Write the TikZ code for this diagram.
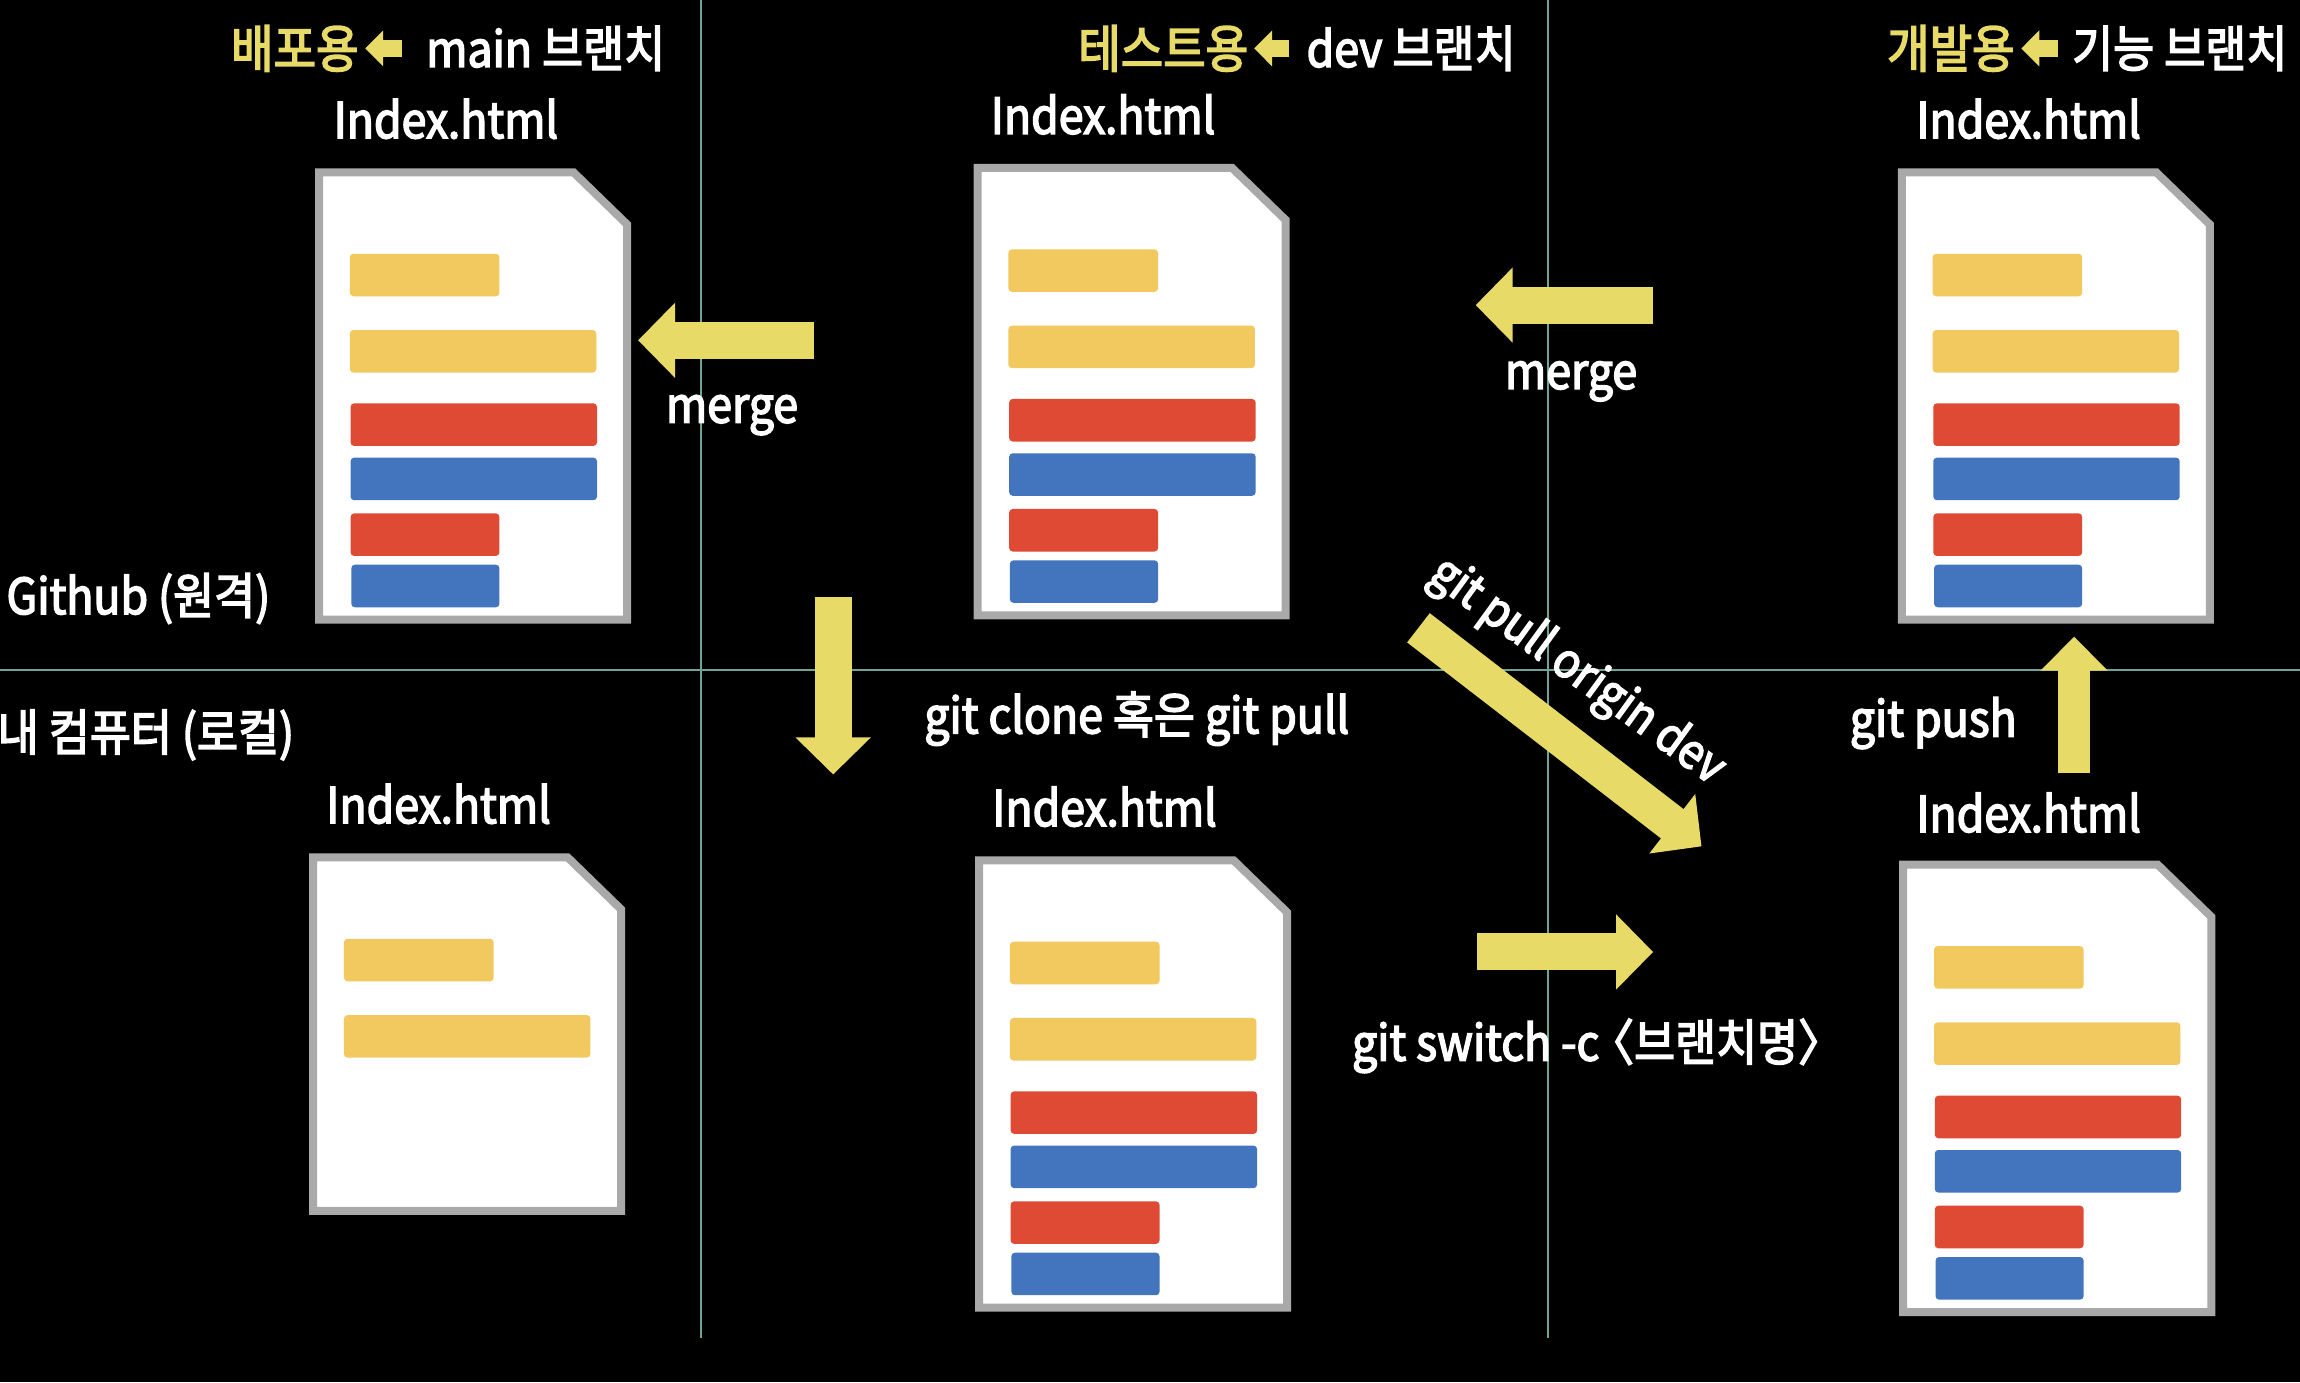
\documentclass[tikz,border=0pt]{standalone}
\usepackage{fontspec}
\setmainfont{Noto Sans CJK KR}[FakeStretch=0.9,FakeBold=3]
\usetikzlibrary{arrows.meta}
\definecolor{arrowyellow}{HTML}{E8DA66}
\definecolor{baryellow}{HTML}{F2C95F}
\definecolor{barred}{HTML}{DE4A33}
\definecolor{barblue}{HTML}{4275BE}
\definecolor{pagegray}{HTML}{A9A9A9}
\definecolor{gridteal}{HTML}{6FA596}
\tikzset{
  pagebase/.pic={
    \fill [baryellow, rounded corners=1pt] (23.5,58) rectangle (125.5,87);
    \fill [baryellow, rounded corners=1pt] (23.5,110) rectangle (191.5,139);
  },
  fullpage/.pic={
    \draw [page] (2.5,2.5) -- (176,2.5) -- (212.5,38) -- (212.5,307.5) -- (2.5,307.5) -- cycle;
    \pic {pagebase};
    \fill [barred, rounded corners=1pt] (24,160) rectangle (192,189);
    \fill [barblue, rounded corners=1pt] (24,197) rectangle (192,226);
    \fill [barred, rounded corners=1pt] (24,235) rectangle (125.5,264);
    \fill [barblue, rounded corners=1pt] (24.5,270) rectangle (125.5,299);
  },
  shortpage/.pic={
    \draw [page] (2.5,2.5) -- (176,2.5) -- (212.5,38) -- (212.5,243.5) -- (2.5,243.5) -- cycle;
    \pic {pagebase};
  }
}
\begin{document}
\begin{tikzpicture}[x=0.14668mm, y=-0.14668mm,
  page/.style={draw=pagegray, fill=white, line width=0.8mm},
  grid/.style={draw=gridteal, line width=0.2mm},
  label/.style={text=white, font=\fontsize{14.1}{16}\selectfont, inner sep=0pt},
  tag/.style={label, text=arrowyellow, font=\fontsize{14.6}{16}\selectfont},
  bigarrow/.style={draw=arrowyellow, line width=3.7mm, -{Triangle[length=3.7mm, width=7.3mm]}},
  pusharrow/.style={draw=arrowyellow, line width=3.2mm, -{Triangle[length=3.4mm, width=6.5mm]}},
  smallarrow/.style={draw=arrowyellow, line width=1.7mm, -{Triangle[length=1.8mm, width=3.5mm]}}]
  \fill [black] (0,0) rectangle (1568,942.2);
  \useasboundingbox (0,0) rectangle (1568,942.2);
  \coordinate (gridtopa) at (478,0);
  \coordinate (gridbota) at (478,912);
  \coordinate (gridtopb) at (1055,0);
  \coordinate (gridbotb) at (1055,912);
  \coordinate (gridleft) at (0,457);
  \coordinate (gridright) at (1568,457);
  \draw [grid] (gridtopa) -- (gridbota);
  \draw [grid] (gridtopb) -- (gridbotb);
  \draw [grid] (gridleft) -- (gridright);

  \pic at (215,115) {fullpage};
  \pic at (664,112) {fullpage};
  \pic at (1294,115) {fullpage};
  \pic at (211,582) {shortpage};
  \pic at (665,584) {fullpage};
  \pic at (1295,587) {fullpage};

  \node [tag] (deploy) at (201,33) {배포용};
  \node [label] (mainbranch) at (372,33) {main 브랜치};
  \node [tag] (test) at (793,33) {테스트용};
  \node [label] (devbranch) at (962,33) {dev 브랜치};
  \node [tag] (develop) at (1330,33) {개발용};
  \node [label] (featbranch) at (1486,33) {기능 브랜치};

  \node [label] (indexmain) at (304,81) {Index.html};
  \node [label] (indexdev) at (752,78) {Index.html};
  \node [label] (indexfeat) at (1383,81) {Index.html};
  \node [label] (indexlocala) at (299,548) {Index.html};
  \node [label] (indexlocalb) at (753,550) {Index.html};
  \node [label] (indexlocalc) at (1383,554) {Index.html};

  \node [label] (mergea) at (499,283) {merge};
  \node [label] (mergeb) at (1071,260) {merge};
  \node [label, anchor=west] (github) at (4,408) {Github (원격)};
  \node [label, anchor=east] (local) at (201,501) {내 컴퓨터 (로컬)};
  \node [label] (clone) at (775,490) {git clone 혹은 git pull};
  \node [label, rotate=-36, font=\fontsize{13.7}{16}\selectfont] (pull) at (1075,458) {git pull origin dev};
  \node [label] (push) at (1318,493) {git push};
  \node [label] (switch) at (1089,713) {git switch -c\kern-0.2em 〈브랜치명〉};

  \coordinate (mergeatail) at (555,232);
  \coordinate (mergeahead) at (435,232);
  \coordinate (mergebtail) at (1127,208);
  \coordinate (mergebhead) at (1006,208);
  \coordinate (clonetail) at (568,407);
  \coordinate (clonehead) at (568,528);
  \coordinate (pulltail) at (967,428);
  \coordinate (pullhead) at (1160,577);
  \coordinate (switchtail) at (1007,649);
  \coordinate (switchhead) at (1127,649);
  \coordinate (pushtail) at (1414,527);
  \coordinate (pushhead) at (1414,434);
  \draw [bigarrow] (mergeatail) -- (mergeahead);
  \draw [bigarrow] (mergebtail) -- (mergebhead);
  \draw [bigarrow] (clonetail) -- (clonehead);
  \draw [bigarrow] (pulltail) -- (pullhead);
  \draw [bigarrow] (switchtail) -- (switchhead);
  \draw [pusharrow] (pushtail) -- (pushhead);

  \coordinate (tagatail) at (274,33);
  \coordinate (tagahead) at (249,33);
  \coordinate (tagbtail) at (879,33);
  \coordinate (tagbhead) at (855,33);
  \coordinate (tagctail) at (1403,33);
  \coordinate (tagchead) at (1378,33);
  \draw [smallarrow] (tagatail) -- (tagahead);
  \draw [smallarrow] (tagbtail) -- (tagbhead);
  \draw [smallarrow] (tagctail) -- (tagchead);
\end{tikzpicture}
\end{document}
